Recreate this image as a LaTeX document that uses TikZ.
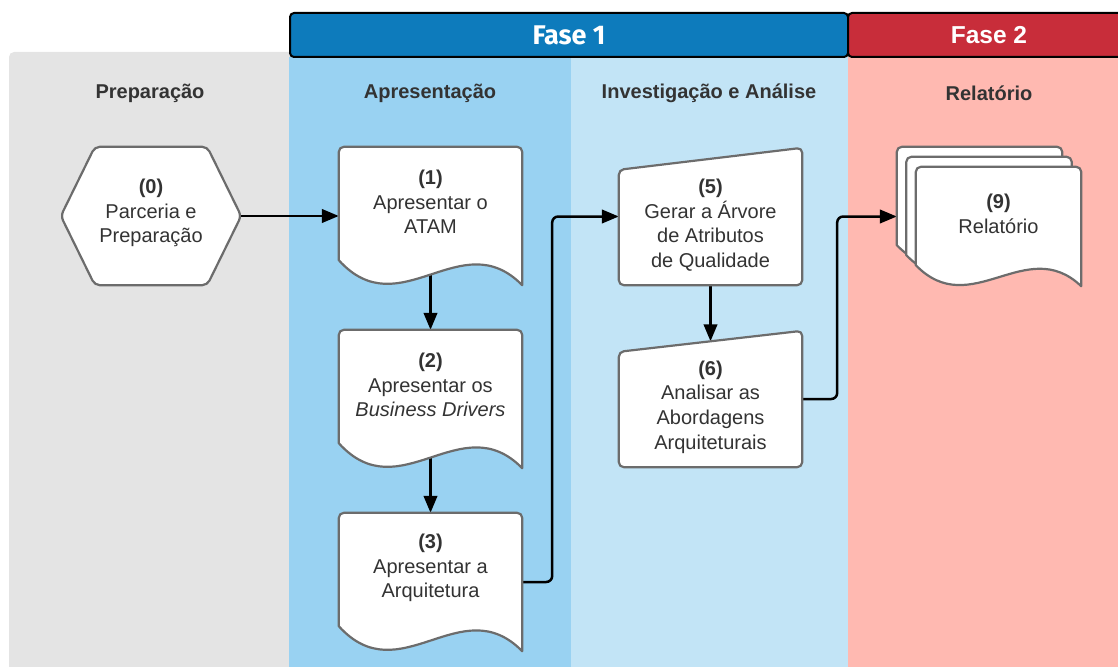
\documentclass[tikz,border=0pt]{standalone}
\usepackage{fontspec}
\setmainfont{Liberation Sans}
\newfontfamily\headfont{Fira Sans}
\usetikzlibrary{calc,arrows.meta}

\definecolor{laneGray}{RGB}{228,228,228}
\definecolor{laneBlue}{RGB}{153,210,242}
\definecolor{laneLight}{RGB}{194,228,246}
\definecolor{lanePink}{RGB}{255,185,177}
\definecolor{faseOne}{RGB}{13,123,188}
\definecolor{faseTwo}{RGB}{200,45,58}
\definecolor{ink}{RGB}{51,51,51}
\definecolor{outlineGray}{RGB}{108,108,108}

\pgfdeclarelayer{lanes}
\pgfdeclarelayer{wires}
\pgfsetlayers{lanes,wires,main}

% document shape: flat top, wavy bottom; #1 node, #2 wave depth
\newcommand\docshape[2]{%
  \draw[outline] ($(#1.south west)+(0,-#2)$)
    [rounded corners=5pt] -- (#1.north west) -- (#1.north east)
    [sharp corners] -- (#1.south east)
    .. controls ($(#1.south east)!0.333!(#1.south west)+(0,-2.5*#2)$)
       and ($(#1.south west)!0.333!(#1.south east)+(0,1.7*#2)$)
    .. ($(#1.south west)+(0,-#2)$) -- cycle;}

% manual input shape: slanted top edge rising to the right; #1 node, #2 rise
\newcommand\manualshape[2]{%
  \draw[outline, rounded corners=5pt] ($(#1.north west)+(0,#2)$) -- (#1.north east)
    -- (#1.south east) -- (#1.south west) -- cycle;}

\begin{document}
\begin{tikzpicture}[x=1pt, y=-1pt,
  box/.style={draw=none, inner sep=0pt, minimum width=183pt},
  outline/.style={draw=outlineGray, line width=2.2pt, fill=white, line join=round},
  txt/.style={align=center, text=ink, inner sep=0pt, font=\fontsize{20}{24.6}\selectfont},
  lanelabel/.style={text=ink, inner sep=0pt, font=\fontsize{20}{24}\selectfont\bfseries},
  phase/.style={draw=black, line width=2pt, rounded corners=4pt, text=white,
    minimum height=44pt, inner sep=0pt},
  wire/.style={draw=black, line width=2.5pt, rounded corners=6pt,
    -{Triangle[length=17pt,width=13.5pt]}}]

\useasboundingbox (0,0) rectangle (1118,666);

% swim lanes
\begin{pgfonlayer}{lanes}
  \fill[laneGray, rounded corners=5pt] (9,52) rectangle (300,720);
  \fill[laneBlue] (289,57) rectangle (571,720);
  \fill[laneLight] (571,57) rectangle (848,720);
  \fill[lanePink] (848,57) rectangle (1140,720);
\end{pgfonlayer}

% phase headers
\node[phase, fill=faseOne, minimum width=558pt, font=\headfont\fontsize{27}{30}\selectfont\bfseries]
  (f1) at (569,35) {Fase 1};
\node[phase, fill=faseTwo, minimum width=282pt, font=\fontsize{24.5}{28}\selectfont\bfseries]
  (f2) at (989,35) {Fase 2};

% lane titles
\node[lanelabel] (l0) at (150,93) {Preparação};
\node[lanelabel] (l1) at (430,93) {Apresentação};
\node[lanelabel] (l2) at (709,93) {Investigação e Análise};
\node[lanelabel] (l3) at (989,93) {Relatório};

% (0) hexagon
\node[box, minimum width=180pt, minimum height=138pt] (hex) at (151,216) {};
\draw[outline, rounded corners=5pt] (hex.west) -- ($(hex.north west)+(34,0)$)
  -- ($(hex.north east)+(-34,0)$) -- (hex.east) -- ($(hex.south east)+(-34,0)$)
  -- ($(hex.south west)+(34,0)$) -- cycle;
\node[txt] (t0) at ($(hex.center)+(0,-3)$) {\textbf{(0)}\\Parceria e\\Preparação};

% (1)-(3) documents
\node[box, minimum height=138pt] (d1) at (430.5,216) {};
\docshape{d1}{25}
\node[txt] (t1) at ($(d1.center)+(0,-14)$) {\textbf{(1)}\\Apresentar o\\ATAM};

\node[box, minimum height=138pt] (d2) at (430.5,399) {};
\docshape{d2}{25}
\node[txt] (t2) at ($(d2.center)+(0,-14)$) {\textbf{(2)}\\Apresentar os\\\textit{Business Drivers}};

\node[box, minimum height=138pt] (d3) at (430.5,582) {};
\docshape{d3}{25}
\node[txt] (t3) at ($(d3.center)+(0,-14)$) {\textbf{(3)}\\Apresentar a\\Arquitetura};

% (5)-(6) manual inputs
\node[box, minimum height=137pt] (d5) at (710.5,216.5) {};
\manualshape{d5}{22}
\node[txt] (t5) at ($(d5.center)+(0,8.5)$) {\textbf{(5)}\\Gerar a Árvore\\de Atributos\\de Qualidade};

\node[box, minimum height=136pt] (d6) at (710.5,399) {};
\manualshape{d6}{21}
\node[txt] (t6) at ($(d6.center)+(0,8)$) {\textbf{(6)}\\Analisar as\\Abordagens\\Arquiteturais};

% (9) stacked documents
\node[box, minimum width=165pt, minimum height=119pt] (r9a) at (979.5,206.5) {};
\node[box, minimum width=165pt, minimum height=119pt] (r9b) at (989,216.5) {};
\node[box, minimum width=165pt, minimum height=119pt] (r9c) at (998.5,226.5) {};
\docshape{r9a}{21}
\docshape{r9b}{21}
\docshape{r9c}{21}
\node[txt] (t9) at ($(r9c.center)+(0,-12.5)$) {\textbf{(9)}\\Relatório};

% connectors
\begin{pgfonlayer}{wires}
  \draw[wire] (hex.east) -- (d1.west);
  \draw[wire] ($(d1.south)+(0,-15)$) -- (d2.north);
  \draw[wire] ($(d2.south)+(0,-15)$) -- (d3.north);
  \draw[wire] (d3.east) -- ++(30,0) |- (d5.west);
  \draw[wire] (d5.south) -- ($(d6.north)+(0,10.5)$);
  \draw[wire] (d6.east) -- ++(35,0) |- (r9a.west |- r9b.center);
\end{pgfonlayer}
\end{tikzpicture}
\end{document}
